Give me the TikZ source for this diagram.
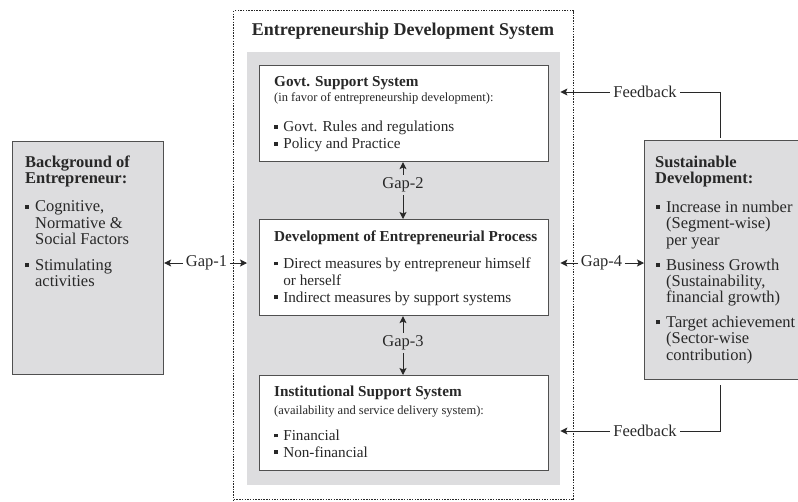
\documentclass[tikz,border=0pt]{standalone}
\usepackage{fontspec}
\setmainfont{Liberation Serif}
\usetikzlibrary{arrows.meta}

\definecolor{ink}{RGB}{40,40,40}
\definecolor{panel}{RGB}{221,221,223}
\definecolor{edge}{RGB}{80,80,80}

% small square bullet and the matching hanging indent
\newcommand\sqbul{\makebox[0.6em][l]{\raisebox{0.2em}{\rule{0.24em}{0.24em}}}}
\newcommand\indt{\hspace*{0.6em}}

% type sizes
\newcommand\ftitle{\bfseries\fontsize{18}{20}\selectfont}
\newcommand\fhead{\bfseries\fontsize{15.2}{16.8}\selectfont}
\newcommand\fbody{\fontsize{15.2}{16.8}\selectfont}
\newcommand\fsmall{\fontsize{12.5}{14}\selectfont}
\newcommand\fside{\fontsize{16.5}{16.3}\selectfont}
\newcommand\fsidehead{\bfseries\fontsize{16.5}{16.3}\selectfont}
\newcommand\fgap{\fontsize{16.5}{18}\selectfont}

\begin{document}
\begin{tikzpicture}[x=1pt,y=-1pt,
  every node/.style={text=ink, inner sep=0pt},
  box/.style={draw=edge, line width=1.1pt, anchor=north west},
  txt/.style={anchor=north west, align=left},
  gaplbl/.style={font=\fgap, inner xsep=2.5pt, inner ysep=3pt},
  arr/.style={draw=ink, line width=1pt, -{Stealth[length=7pt,width=7pt,inset=1.5pt]}},
  link/.style={draw=ink, line width=0.9pt}]
\useasboundingbox (0,0) rectangle (798,501);

% outer dotted frame and shaded core
\node[draw=ink, line width=1.4pt, dash pattern=on 1.5pt off 1.2pt,
      minimum width=340, minimum height=489, anchor=north west] (eds) at (233,10) {};
\node[fill=panel, minimum width=313, minimum height=433, anchor=north west] (core) at (247,52) {};
\node[font=\ftitle] (title) at (403,31) {Entrepreneurship Development System};

% government support
\node[box, fill=white, minimum width=289, minimum height=96] (govt) at (259,65) {};
\node[anchor=base west, font=\fhead] (govth) at (274,86.5) {Govt. Support System};
\node[anchor=base west, font=\fsmall] (govts) at (274,101) {(in favor of entrepreneurship development):};
\node[txt, font=\fbody] (govti) at (274,121) {\sqbul Govt. Rules and regulations\\ \sqbul Policy and Practice};

% entrepreneurial process
\node[box, fill=white, minimum width=289, minimum height=96] (dev) at (259,219) {};
\node[anchor=base west, font=\fhead] (devh) at (274,241) {Development of Entrepreneurial Process};
\node[txt, font=\fbody] (devi) at (274,257.6) {\sqbul Direct measures by entrepreneur himself\\ \indt or herself\\ \sqbul Indirect measures by support systems};

% institutional support
\node[box, fill=white, minimum width=289, minimum height=95] (inst) at (259,375) {};
\node[anchor=base west, font=\fhead] (insth) at (274,396) {Institutional Support System};
\node[anchor=base west, font=\fsmall] (insts) at (274,414) {(availability and service delivery system):};
\node[txt, font=\fbody] (insti) at (274,429.6) {\sqbul Financial\\ \sqbul Non-financial};

% background of the entrepreneur
\node[box, fill=panel, minimum width=151, minimum height=233] (bg) at (12,141) {};
\node[txt, font=\fsidehead] (bgh) at (25,155.7) {Background of\\Entrepreneur:};
\node[txt, font=\fside] (bgi) at (25,200.8) {\sqbul Cognitive,\\ \indt Normative \&\\ \indt Social Factors\\[9.7pt] \sqbul Stimulating\\ \indt activities};

% sustainable development
\node[box, fill=panel, minimum width=160, minimum height=239] (sd) at (644,140) {};
\node[txt, font=\fsidehead] (sdh) at (655,155.7) {Sustainable\\Development:};
\node[txt, font=\fside] (sdi) at (656,200.8) {\sqbul Increase in number\\ \indt (Segment-wise)\\ \indt per year\\[8.7pt] \sqbul Business Growth\\ \indt (Sustainability,\\ \indt financial growth)\\[8.7pt] \sqbul Target achievement\\ \indt (Sector-wise\\ \indt contribution)};

% gaps
\node[gaplbl] (g1) at (206.5,263) {Gap-1};
\draw[arr] (g1.west) -- (g1.west -| bg.east);
\draw[arr] (g1.east) -- (g1.east -| core.west);

\node[gaplbl] (g4) at (601.5,263) {Gap-4};
\draw[arr] (g4.west) -- (g4.west -| core.east);
\draw[arr] (g4.east) -- (g4.east -| sd.west);

\node[gaplbl] (g2) at (403,185) {Gap-2};
\draw[arr] (g2.north) -- (g2.north |- govt.south);
\draw[arr] (g2.south) -- (g2.south |- dev.north);

\node[gaplbl] (g3) at (403,343) {Gap-3};
\draw[arr] (g3.north) -- (g3.north |- dev.south);
\draw[arr] (g3.south) -- (g3.south |- inst.north);

% feedback loops
\coordinate (fbx) at (720,0);
\node[gaplbl, inner xsep=3.5pt] (fb1) at (645,92) {Feedback};
\draw[arr] (fb1.west) -- (fb1.west -| core.east);
\draw[link] (fb1.east) -- (fb1.east -| fbx) -- ([yshift=2pt]fbx |- sd.north);

\node[gaplbl, inner xsep=3.5pt] (fb2) at (645,431) {Feedback};
\draw[arr] (fb2.west) -- (fb2.west -| core.east);
\draw[link] (fb2.east) -- (fb2.east -| fbx) -- ([yshift=-5pt]fbx |- sd.south);
\end{tikzpicture}
\end{document}
